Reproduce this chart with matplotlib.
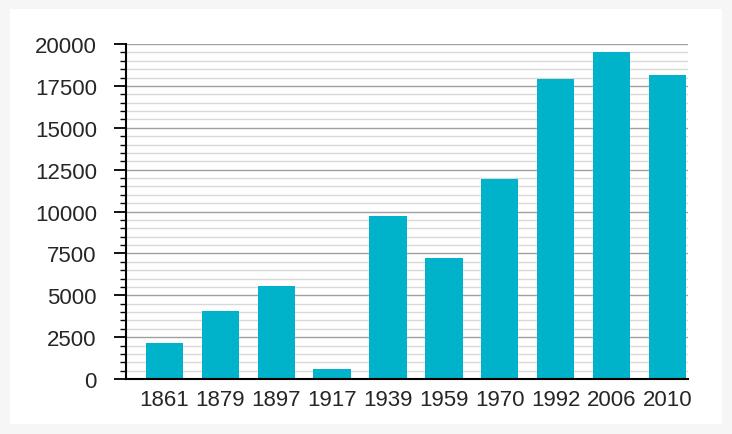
import matplotlib.pyplot as plt
from matplotlib.patches import Rectangle
from matplotlib.ticker import MultipleLocator

years = ['1861', '1879', '1897', '1917', '1939', '1959', '1970', '1992', '2006', '2010']
population = [2130, 4050, 5570, 600, 9720, 7200, 11950, 17900, 19500, 18120]

bar_color = '#00b2ca'
text_color = '#262626'

fig = plt.figure(figsize=(7.32, 4.35), dpi=100)
fig.patch.set_facecolor('#f6f6f6')
# white panel behind the chart
fig.patches.append(Rectangle((10 / 732, 10 / 435), 712 / 732, 415 / 435,
                             transform=fig.transFigure, facecolor='white',
                             edgecolor='none', zorder=-10))

ax = fig.add_axes([126 / 732, 1 - 380 / 435, (688 - 126) / 732, (380 - 45) / 435])
ax.set_facecolor('none')
ax.set_zorder(5)

x = list(range(len(years)))
ax.bar(x, population, width=0.67, color=bar_color, zorder=3)

ax.set_xlim(-0.69, len(years) - 1 + 0.37)
ax.set_ylim(0, 20000)
ax.set_xticks(x)
ax.set_xticklabels(years)
ax.yaxis.set_major_locator(MultipleLocator(2500))
ax.yaxis.set_minor_locator(MultipleLocator(500))

ax.grid(axis='y', which='major', color='#a0a0a0', linewidth=1.0, zorder=1)
ax.grid(axis='y', which='minor', color='#d8d8d8', linewidth=1.0, zorder=1)

for s in ['top', 'right']:
    ax.spines[s].set_visible(False)
for s in ['left', 'bottom']:
    ax.spines[s].set_color('black')
    ax.spines[s].set_linewidth(1.5)
    ax.spines[s].set_zorder(4)

font = {'family': 'Liberation Sans', 'size': 16}
ax.tick_params(axis='y', which='major', direction='out', length=9, width=1.3,
               color='black', pad=12, labelcolor=text_color)
ax.tick_params(axis='y', which='minor', direction='out', length=4.5, width=1.0,
               color='black')
ax.tick_params(axis='x', length=0, pad=7, labelcolor=text_color)
for lbl in ax.get_yticklabels() + ax.get_xticklabels():
    lbl.set_fontfamily(font['family'])
    lbl.set_fontsize(font['size'])

fig.savefig('out.png', dpi=100, facecolor=fig.get_facecolor())
